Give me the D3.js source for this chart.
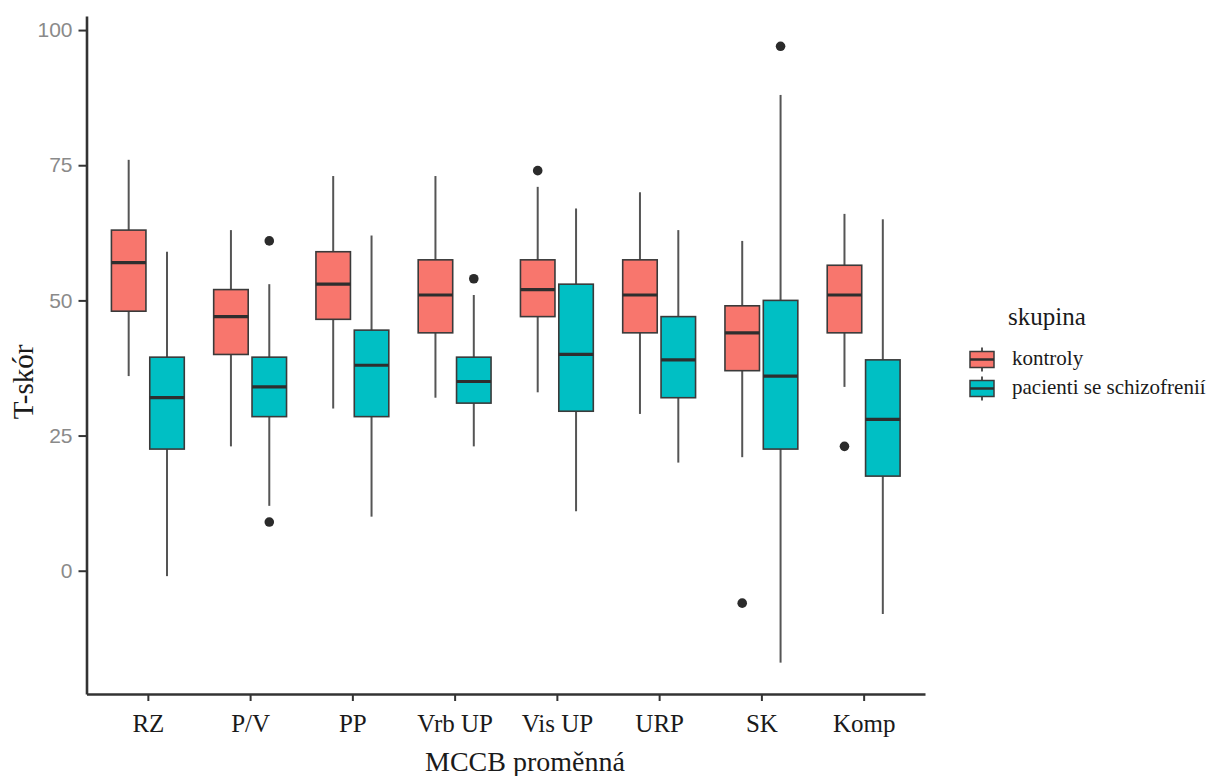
<!DOCTYPE html>
<html>
<head>
<meta charset="utf-8">
<script src="https://cdn.jsdelivr.net/npm/d3@7"></script>
<style>
  html, body { margin: 0; padding: 0; background: #fff; }
  svg { display: block; }
</style>
</head>
<body>
<svg id="chart" width="1207" height="776"></svg>
<script>
// ---------------- DATA ----------------
const categories = ["RZ", "P/V", "PP", "Vrb UP", "Vis UP", "URP", "SK", "Komp"];
const groups = ["kontroly", "pacienti se schizofrenií"];

// kontroly (controls)
const ctrlLow  = [36, 23, 30, 32, 33, 29, 21, 34];
const ctrlQ1   = [48, 40, 46.5, 44, 47, 44, 37, 44];
const ctrlMed  = [57, 47, 53, 51, 52, 51, 44, 51];
const ctrlQ3   = [63, 52, 59, 57.5, 57.5, 57.5, 49, 56.5];
const ctrlHigh = [76, 63, 73, 73, 71, 70, 61, 66];
const ctrlOutliers = [[], [], [], [], [74], [], [-6], [23]];

// pacienti se schizofrenií (patients)
const patLow  = [-1, 12, 10, 23, 11, 20, -17, -8];
const patQ1   = [22.5, 28.5, 28.5, 31, 29.5, 32, 22.5, 17.5];
const patMed  = [32, 34, 38, 35, 40, 39, 36, 28];
const patQ3   = [39.5, 39.5, 44.5, 39.5, 53, 47, 50, 39];
const patHigh = [59, 53, 62, 51, 67, 63, 88, 65];
const patOutliers = [[], [61, 9], [], [54], [], [], [97], []];

const yTicks = [0, 25, 50, 75, 100];
const yTitle = "T-skór";
const xTitle = "MCCB proměnná";
const legendTitle = "skupina";

// ---------------- BUILD ----------------
function build(low, q1, med, q3, high, outl, grp) {
  return categories.map((c, i) => ({
    cat: c, group: grp, low: low[i], q1: q1[i], med: med[i], q3: q3[i], high: high[i], out: outl[i]
  }));
}
const boxes = build(ctrlLow, ctrlQ1, ctrlMed, ctrlQ3, ctrlHigh, ctrlOutliers, groups[0])
  .concat(build(patLow, patQ1, patMed, patQ3, patHigh, patOutliers, groups[1]));

const svg = d3.select("#chart");
const pLeft = 86.5, pRight = 925, pTop = 16, pBottom = 694;

const x = d3.scalePoint().domain(categories).range([pLeft, pRight]).padding(0.6);
const step = x.step();
const dodge = d3.scaleBand().domain(groups).range([-0.375 * step, 0.375 * step]);
const boxW = dodge.bandwidth() * 0.9;
const y = d3.scaleLinear().domain([-22.8, 102.6]).range([pBottom, pTop]);
const color = d3.scaleOrdinal().domain(groups).range(["#F8766D", "#00BFC4"]);

const serif = "'Liberation Serif', 'Times New Roman', serif";
const sans = "'Liberation Sans', Arial, sans-serif";

// ---------------- BOXES ----------------
const plot = svg.append("g");
const bx = d => x(d.cat) + dodge(d.group) + dodge.bandwidth() / 2;

const items = plot.selectAll("g.box").data(boxes).join("g").attr("class", "box");

// whiskers
items.append("line")
  .attr("x1", bx).attr("x2", bx)
  .attr("y1", d => y(d.q3)).attr("y2", d => y(d.high))
  .attr("stroke", "#555").attr("stroke-width", 2);
items.append("line")
  .attr("x1", bx).attr("x2", bx)
  .attr("y1", d => y(d.q1)).attr("y2", d => y(d.low))
  .attr("stroke", "#555").attr("stroke-width", 2);
// box
items.append("rect")
  .attr("x", d => bx(d) - boxW / 2)
  .attr("width", boxW)
  .attr("y", d => y(d.q3))
  .attr("height", d => y(d.q1) - y(d.q3))
  .attr("fill", d => color(d.group))
  .attr("stroke", "#3a3a3a").attr("stroke-width", 1.6);
// median
items.append("line")
  .attr("x1", d => bx(d) - boxW / 2).attr("x2", d => bx(d) + boxW / 2)
  .attr("y1", d => y(d.med)).attr("y2", d => y(d.med))
  .attr("stroke", "#2e2e2e").attr("stroke-width", 3.2);
// outliers
items.selectAll("circle").data(d => d.out.map(v => ({ v, d }))).join("circle")
  .attr("cx", o => bx(o.d)).attr("cy", o => y(o.v)).attr("r", 4.8)
  .attr("fill", "#2b2b2b");

// ---------------- AXES ----------------
const yAxis = svg.append("g").attr("transform", `translate(${pLeft},0)`)
  .call(d3.axisLeft(y).tickValues(yTicks).tickSize(8).tickSizeOuter(0).tickPadding(6));
yAxis.select(".domain").attr("stroke", "#333").attr("stroke-width", 2.6);
yAxis.selectAll(".tick line").attr("stroke", "#333").attr("stroke-width", 2);
yAxis.selectAll(".tick text")
  .attr("fill", "#8a8a8a").style("font-family", sans).style("font-size", "21px");

const xAxis = svg.append("g").attr("transform", `translate(0,${pBottom})`)
  .call(d3.axisBottom(x).tickSize(7).tickSizeOuter(0));
xAxis.select(".domain").attr("stroke", "#333").attr("stroke-width", 2.6);
xAxis.selectAll(".tick line").attr("stroke", "#333").attr("stroke-width", 2);
xAxis.selectAll(".tick text")
  .attr("y", 38).attr("dy", 0)
  .attr("fill", "#1a1a1a").style("font-family", serif).style("font-size", "25px");

// titles
svg.append("text")
  .attr("x", 525).attr("y", 771)
  .attr("text-anchor", "middle")
  .style("font-family", serif).style("font-size", "28px").attr("fill", "#1a1a1a")
  .text(xTitle);
svg.append("text")
  .attr("transform", "translate(33,382) rotate(-90)")
  .attr("text-anchor", "middle")
  .style("font-family", serif).style("font-size", "29px").attr("fill", "#1a1a1a")
  .text(yTitle);

// ---------------- LEGEND ----------------
const leg = svg.append("g");
leg.append("text")
  .attr("x", 1008).attr("y", 325)
  .style("font-family", serif).style("font-size", "25px").attr("fill", "#1a1a1a")
  .text(legendTitle);
const rowY = d3.scalePoint().domain(groups).range([359.5, 388.5]);
const keyX = 982, keyW = 24, keyH = 16;
const rows = leg.selectAll("g.row").data(groups).join("g").attr("class", "row");
rows.append("line")
  .attr("x1", keyX).attr("x2", keyX)
  .attr("y1", d => rowY(d) - 12).attr("y2", d => rowY(d) + 12)
  .attr("stroke", "#555").attr("stroke-width", 2);
rows.append("rect")
  .attr("x", keyX - keyW / 2).attr("width", keyW)
  .attr("y", d => rowY(d) - keyH / 2).attr("height", keyH)
  .attr("fill", d => color(d)).attr("stroke", "#3a3a3a").attr("stroke-width", 1.5);
rows.append("line")
  .attr("x1", keyX - keyW / 2).attr("x2", keyX + keyW / 2)
  .attr("y1", d => rowY(d)).attr("y2", d => rowY(d))
  .attr("stroke", "#2e2e2e").attr("stroke-width", 2.5);
rows.append("text")
  .attr("x", 1012).attr("y", d => rowY(d) + 5)
  .style("font-family", serif).style("font-size", "21px").attr("fill", "#1a1a1a")
  .text(d => d);
</script>
</body>
</html>
